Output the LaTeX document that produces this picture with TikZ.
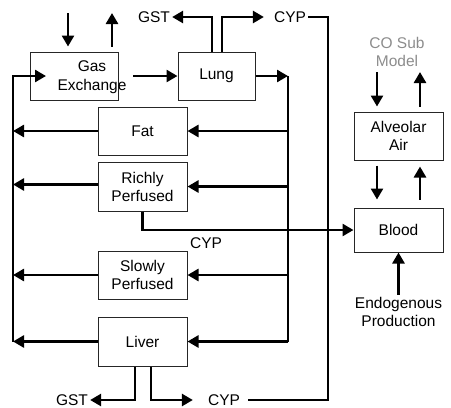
\documentclass[tikz,border=0pt]{standalone}
\usepackage{fontspec}
\setmainfont{Liberation Sans}
\usetikzlibrary{arrows.meta}
\begin{document}
\begin{tikzpicture}[x=1pt,y=-1pt,
 box/.style={draw=black!85,line width=1pt,rectangle,minimum width=89pt,minimum height=48pt,inner sep=0pt,font=\fontsize{15.5}{18}\selectfont,align=center},
 lbl/.style={font=\fontsize{15.5}{18.5}\selectfont,align=center,inner sep=2pt},
 thk/.style={line width=2.6pt},
 arr/.style={thk,-{Triangle[length=11pt,width=12pt]}}]
\useasboundingbox (0,0) rectangle (451,408);
% boxes
\node[box,minimum width=88pt] (gx) at (74,76) {};
\node[lbl] (gxt) at (92,77) {Gas\\Exchange};
\node[box,minimum width=77pt] (lung) at (216.5,76) {Lung};
\node[box] (fat) at (142.5,131) {Fat};
\node[box,minimum height=49pt] (rich) at (142.5,186.5) {Richly\\Perfused};
\node[box] (slow) at (142.5,275) {Slowly\\Perfused};
\node[box,minimum height=49pt] (liver) at (142.5,341.5) {Liver};
\node[box] (alv) at (398.5,136) {Alveolar\\Air};
\node[box,minimum height=44pt] (blood) at (398.5,230) {Blood};
% labels
\node[lbl] (gst1) at (154,17) {GST};
\node[lbl] (cyp1) at (290,17) {CYP};
\node[lbl] (gst2) at (72,400) {GST};
\node[lbl] (cyp2) at (224,400) {CYP};
\node[lbl] (cyp3) at (206,243) {CYP};
\node[lbl,text=black!45] (co) at (397,52) {CO Sub\\Model};
\node[lbl] (endo) at (398.5,312) {Endogenous\\Production};
% coordinates
\coordinate (lb) at (13,0);
\coordinate (rb) at (288,0);
\coordinate (gin) at (68,13);
\coordinate (gout) at (112,13);
\coordinate (gxe) at (133,76);
\coordinate (gxin) at (46,76);
\coordinate (cr) at (328,400);
\coordinate (coa) at (377,72);
\coordinate (cob) at (420,72);
\coordinate (rw) at ([yshift=2pt]rich.west);
% gas exchange
\draw[arr,shorten >=5pt] (gin) -- (gin |- gx.north);
\draw[arr,shorten <=5pt] (gout |- gx.north) -- (gout);
\draw[arr] (gxe) -- (lung.west);
% lung outputs
\draw[arr] ([xshift=-4.5pt]lung.north) |- (gst1.east);
\draw[arr,shorten >=8pt] ([xshift=5.5pt]lung.north) |- (cyp1.west);
\draw[thk] (cyp1.east) -| (cr) -- ([xshift=6pt]cyp2.east);
\draw[arr] (lung.east) -- (rb |- lung.east);
\draw[thk] (rb |- lung.east) -- (rb |- liver.east);
% right bus to tissues
\draw[arr] (rb |- fat.east) -- (fat.east);
\draw[arr] (rb |- rich.east) -- (rich.east);
\draw[arr] (rb |- slow.east) -- (slow.east);
\draw[arr] (rb |- liver.east) -- (liver.east);
% tissues to left bus
\draw[arr] (fat.west) -- (lb |- fat.west);
\draw[arr] (rw) -- (lb |- rw);
\draw[arr] (slow.west) -- (lb |- slow.west);
\draw[arr] (liver.west) -- (lb |- liver.west);
\draw[arr] (lb |- liver.west) -- (lb |- gxin) -- (gxin);
% liver outputs
\draw[arr] ([xshift=-7.5pt]liver.south) |- (gst2.east);
\draw[arr,shorten >=13pt] ([xshift=8.5pt]liver.south) |- (cyp2.west);
% richly to blood
\draw[arr] (rich.south) |- (blood.west);
% CO sub model
\draw[arr,shorten >=5pt] (coa) -- (coa |- alv.north);
\draw[arr,shorten <=5pt] (cob |- alv.north) -- (cob);
\draw[arr,shorten <=5pt,shorten >=8pt] (coa |- alv.south) -- (coa |- blood.north);
\draw[arr,shorten <=8pt,shorten >=6pt] (cob |- blood.north) -- (cob |- alv.south);
\draw[arr] (endo.north) -- (blood.south);
\end{tikzpicture}
\end{document}
